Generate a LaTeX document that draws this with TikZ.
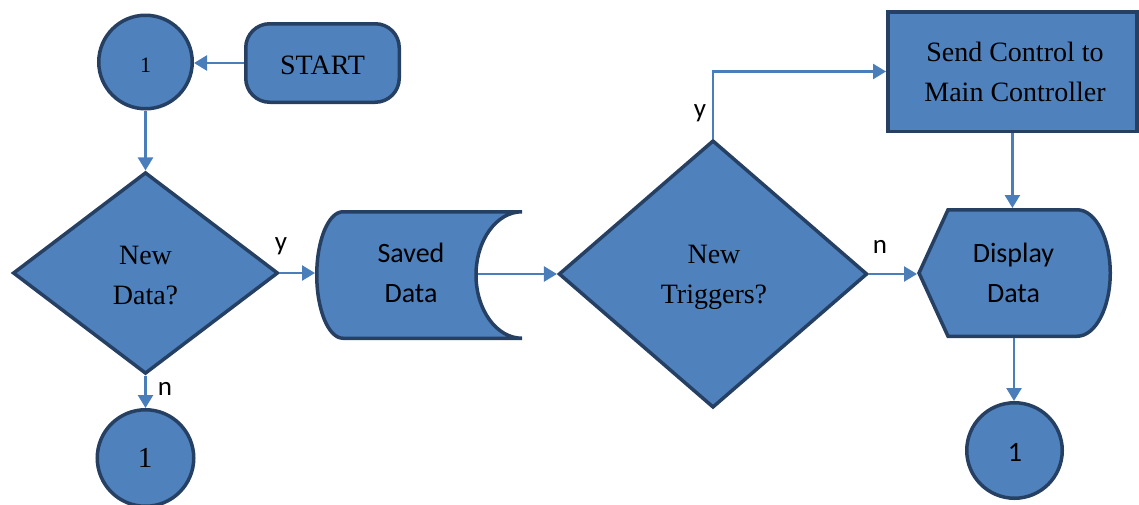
\documentclass[tikz,border=0pt]{standalone}
\usepackage{fontspec}
\setmainfont{Liberation Serif}
\newfontfamily\calib{Carlito}
\usetikzlibrary{shapes.geometric,arrows.meta}
\definecolor{fillblue}{RGB}{79,129,189}
\definecolor{edgeblue}{RGB}{38,64,100}
\definecolor{linkblue}{RGB}{74,126,187}
\begin{document}
\begin{tikzpicture}[x=1pt,y=-1pt,
  shp/.style={draw=edgeblue, fill=fillblue, line width=3.5pt, inner sep=0pt},
  circ/.style={shp, circle},
  dia/.style={shp, diamond},
  arr/.style={draw=linkblue, line width=2.5pt, -{Triangle[length=13pt,width=15pt]}},
  ttxt/.style={font=\fontsize{28}{40}\selectfont, align=center, inner sep=0pt},
  ctxt/.style={font=\calib\fontsize{28}{40}\selectfont, align=center, inner sep=0pt},
  lbl/.style={font=\calib\fontsize{27}{32}\selectfont, inner sep=0pt}]
\useasboundingbox (0,0) rectangle (1139,504);

% shapes
\node[circ, minimum size=93.5pt] (c1) at (145.5,62) {};
\node[shp, rounded corners=24pt, minimum width=153.5pt, minimum height=78.5pt] (start) at (322.5,63) {};
\node[dia, minimum width=265.2pt, minimum height=201.6pt] (d1) at (145.5,273) {};
\node[circ, minimum size=96.5pt] (c3) at (145.5,458) {};
\draw[shp] (343,211.75) -- (522,211.75)
  .. controls (496.6,211.75) and (476,240.1) .. (476,275)
  .. controls (476,309.9) and (496.6,338.25) .. (522,338.25)
  -- (343,338.25)
  .. controls (328.5,338.25) and (316.75,309.9) .. (316.75,275)
  .. controls (316.75,240.1) and (328.5,211.75) .. cycle;
\coordinate (savedW) at (315,275);
\coordinate (savedE) at (477.5,274);
\node[dia, minimum width=308.6pt, minimum height=267.4pt] (d2) at (713,274) {};
\node[shp, minimum width=249.25pt, minimum height=119.5pt] (box) at (1012.4,71.5) {};
\draw[shp] (919,273) -- (948,209.75) -- (1077,209.75)
  .. controls (1095.4,209.75) and (1110.25,238.1) .. (1110.25,273)
  .. controls (1110.25,307.9) and (1095.4,336.25) .. (1077,336.25)
  -- (948,336.25) -- cycle;
\coordinate (dispW) at (917,273);
\coordinate (dispN) at (1013,208);
\coordinate (dispS) at (1014,338);
\node[circ, minimum size=95.5pt] (c4) at (1014.5,450.5) {};

% texts
\node[ttxt, font=\fontsize{22}{26}\selectfont] (t1) at (145.5,65.5) {1};
\node[ttxt] (tstart) at (322.5,65.75) {START};
\node[ttxt] (td1) at (145.5,275.75) {New\\Data?};
\node[ttxt, font=\fontsize{29}{34}\selectfont] (t3) at (145,458) {1};
\node[ctxt] (tsaved) at (411,273.25) {Saved\\Data};
\node[ttxt] (td2) at (714,277.1) {New\\Triggers?};
\node[ttxt] (tbox) at (1015,72.15) {Send Control to\\Main Controller};
\node[ctxt] (tdisp) at (1013.5,273.25) {Display\\Data};
\node[ctxt] (t4) at (1015,452.5) {1};

% connectors
\draw[arr] (start.west) -- (start.west -| c1.east);
\draw[arr] (c1.south) -- (d1.north);
\draw[arr] (d1.east) -- (d1.east -| savedW);
\draw[arr] (d1.south) -- (c3.north);
\draw[arr] (savedE) -- (savedE -| d2.west);
\draw[arr] (d2.north) |- (box.west);
\draw[arr] (box.south) -- (box.south |- dispN);
\draw[arr] (d2.east) -- (d2.east -| dispW);
\draw[arr] (dispS) -- (dispS |- c4.north);

% labels
\node[lbl] (ly1) at (281,246) {y};
\node[lbl] (ln1) at (165,389) {n};
\node[lbl] (ly2) at (700,113) {y};
\node[lbl] (ln2) at (880,247) {n};
\end{tikzpicture}
\end{document}
